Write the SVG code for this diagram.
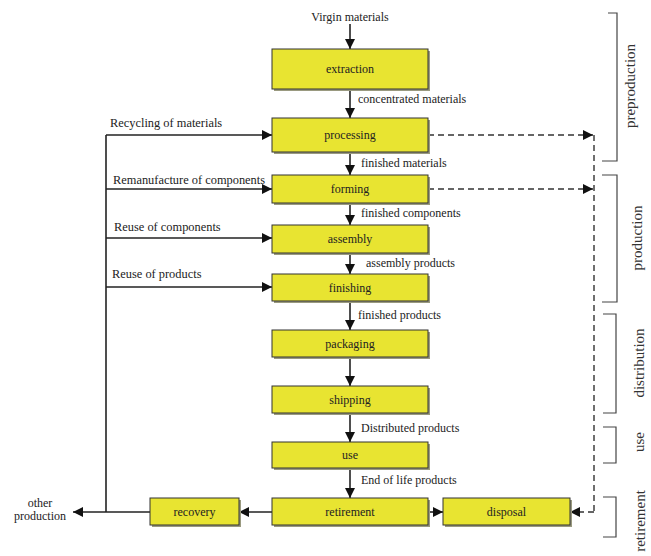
<svg xmlns="http://www.w3.org/2000/svg" width="651" height="556" viewBox="0 0 651 556">
<defs>
<marker id="ah" viewBox="0 0 10 10" refX="10" refY="5" markerWidth="10" markerHeight="10" markerUnits="userSpaceOnUse" orient="auto">
<path d="M0,0 L10,5 L0,10 Z" fill="#111"/>
</marker>
</defs>
<style>
.box rect.b{fill:#e8e431;stroke:#333;stroke-width:1}
.box rect.s{fill:#9a9a80;stroke:none}
.box text{font-family:"Liberation Serif",serif;font-size:12px;fill:#222;text-anchor:middle;dominant-baseline:central}
.ln{stroke:#222;stroke-width:1.6;fill:none}
.dash{stroke:#333;stroke-width:1.4;fill:none;stroke-dasharray:6,4}
.br{stroke:#444;stroke-width:1.2;fill:none}
.lbl{font-family:"Liberation Serif",serif;font-size:12px;fill:#222}
.lft{font-family:"Liberation Serif",serif;font-size:12.4px;fill:#222}
.side{font-family:"Liberation Serif",serif;font-size:15px;fill:#333;text-anchor:middle;dominant-baseline:central}
</style>
<rect width="651" height="556" fill="#fff"/>

<g id="connectors">
<line class="ln" x1="350" y1="24" x2="350" y2="49" marker-end="url(#ah)"/>
<line class="ln" x1="350" y1="89" x2="350" y2="118" marker-end="url(#ah)"/>
<line class="ln" x1="350" y1="152" x2="350" y2="175" marker-end="url(#ah)"/>
<line class="ln" x1="350" y1="203" x2="350" y2="225" marker-end="url(#ah)"/>
<line class="ln" x1="350" y1="253" x2="350" y2="274" marker-end="url(#ah)"/>
<line class="ln" x1="350" y1="301" x2="350" y2="330" marker-end="url(#ah)"/>
<line class="ln" x1="350" y1="357" x2="350" y2="386" marker-end="url(#ah)"/>
<line class="ln" x1="350" y1="413" x2="350" y2="442" marker-end="url(#ah)"/>
<line class="ln" x1="350" y1="468" x2="350" y2="498" marker-end="url(#ah)"/>
<line class="ln" x1="106" y1="135" x2="106" y2="512"/>
<line class="ln" x1="106" y1="135" x2="272" y2="135" marker-end="url(#ah)"/>
<line class="ln" x1="106" y1="189" x2="272" y2="189" marker-end="url(#ah)"/>
<line class="ln" x1="106" y1="238" x2="272" y2="238" marker-end="url(#ah)"/>
<line class="ln" x1="106" y1="287" x2="272" y2="287" marker-end="url(#ah)"/>
<line class="ln" x1="150" y1="512" x2="73" y2="512" marker-end="url(#ah)"/>
<line class="ln" x1="272" y1="512" x2="239" y2="512" marker-end="url(#ah)"/>
<line class="ln" x1="428" y1="512" x2="443" y2="512" marker-end="url(#ah)"/>
<line class="dash" x1="428" y1="135" x2="593" y2="135" marker-end="url(#ah)"/>
<line class="dash" x1="428" y1="189" x2="593" y2="189" marker-end="url(#ah)"/>
<line class="dash" x1="594" y1="135" x2="594" y2="512"/>
<line class="dash" x1="594" y1="512" x2="570" y2="512" marker-end="url(#ah)" stroke-dasharray="none"/>
</g>

<g id="n-extraction" class="box"><rect class="s" x="274" y="51" width="156" height="40"/><rect class="b" x="272" y="49" width="156" height="40"/><text x="350" y="69">extraction</text></g>
<g id="n-processing" class="box"><rect class="s" x="274" y="120" width="156" height="34"/><rect class="b" x="272" y="118" width="156" height="34"/><text x="350" y="135">processing</text></g>
<g id="n-forming" class="box"><rect class="s" x="274" y="177" width="156" height="28"/><rect class="b" x="272" y="175" width="156" height="28"/><text x="350" y="189">forming</text></g>
<g id="n-assembly" class="box"><rect class="s" x="274" y="227" width="156" height="28"/><rect class="b" x="272" y="225" width="156" height="28"/><text x="350" y="239">assembly</text></g>
<g id="n-finishing" class="box"><rect class="s" x="274" y="276" width="156" height="27"/><rect class="b" x="272" y="274" width="156" height="27"/><text x="350" y="287.5">finishing</text></g>
<g id="n-packaging" class="box"><rect class="s" x="274" y="332" width="156" height="27"/><rect class="b" x="272" y="330" width="156" height="27"/><text x="350" y="343.5">packaging</text></g>
<g id="n-shipping" class="box"><rect class="s" x="274" y="388" width="156" height="27"/><rect class="b" x="272" y="386" width="156" height="27"/><text x="350" y="399.5">shipping</text></g>
<g id="n-use" class="box"><rect class="s" x="274" y="444" width="156" height="26"/><rect class="b" x="272" y="442" width="156" height="26"/><text x="350" y="455">use</text></g>
<g id="n-retirement" class="box"><rect class="s" x="274" y="500" width="156" height="27"/><rect class="b" x="272" y="498" width="156" height="27"/><text x="350" y="511.5">retirement</text></g>
<g id="n-recovery" class="box"><rect class="s" x="152" y="500" width="89" height="27"/><rect class="b" x="150" y="498" width="89" height="27"/><text x="194.5" y="511.5">recovery</text></g>
<g id="n-disposal" class="box"><rect class="s" x="445" y="500" width="127" height="27"/><rect class="b" x="443" y="498" width="127" height="27"/><text x="506.5" y="511.5">disposal</text></g>

<g id="labels">
<text class="lbl" x="350" y="21" text-anchor="middle" font-size="12.8">Virgin materials</text>
<text class="lbl" x="358" y="103">concentrated materials</text>
<text class="lbl" x="361" y="167">finished materials</text>
<text class="lbl" x="361" y="217">finished components</text>
<text class="lbl" x="366" y="267">assembly products</text>
<text class="lbl" x="358" y="319">finished products</text>
<text class="lbl" x="361" y="432">Distributed products</text>
<text class="lbl" x="361" y="484">End of life products</text>
<text class="lft" x="110" y="127">Recycling of materials</text>
<text class="lft" x="113" y="184">Remanufacture of components</text>
<text class="lft" x="114" y="231">Reuse of components</text>
<text class="lft" x="112" y="278">Reuse of products</text>
<text class="lbl" x="40" y="507" text-anchor="middle" font-size="13">other</text>
<text class="lbl" x="40" y="520" text-anchor="middle" font-size="13">production</text>
</g>

<g id="brackets">
<path class="br" d="M608,13 H617 V161 H602"/>
<path class="br" d="M602,175 H617 V302 H602"/>
<path class="br" d="M603,314 H616 V413 H603"/>
<path class="br" d="M603,427 H616 V463 H603"/>
<path class="br" d="M603,497 H616 V537 H603"/>
<text class="side" transform="translate(630,86) rotate(-90)">preproduction</text>
<text class="side" transform="translate(637,238) rotate(-90)">production</text>
<text class="side" transform="translate(639,363) rotate(-90)">distribution</text>
<text class="side" transform="translate(639,442) rotate(-90)">use</text>
<text class="side" transform="translate(640,521) rotate(-90)" font-size="14">retirement</text>
</g>
</svg>
